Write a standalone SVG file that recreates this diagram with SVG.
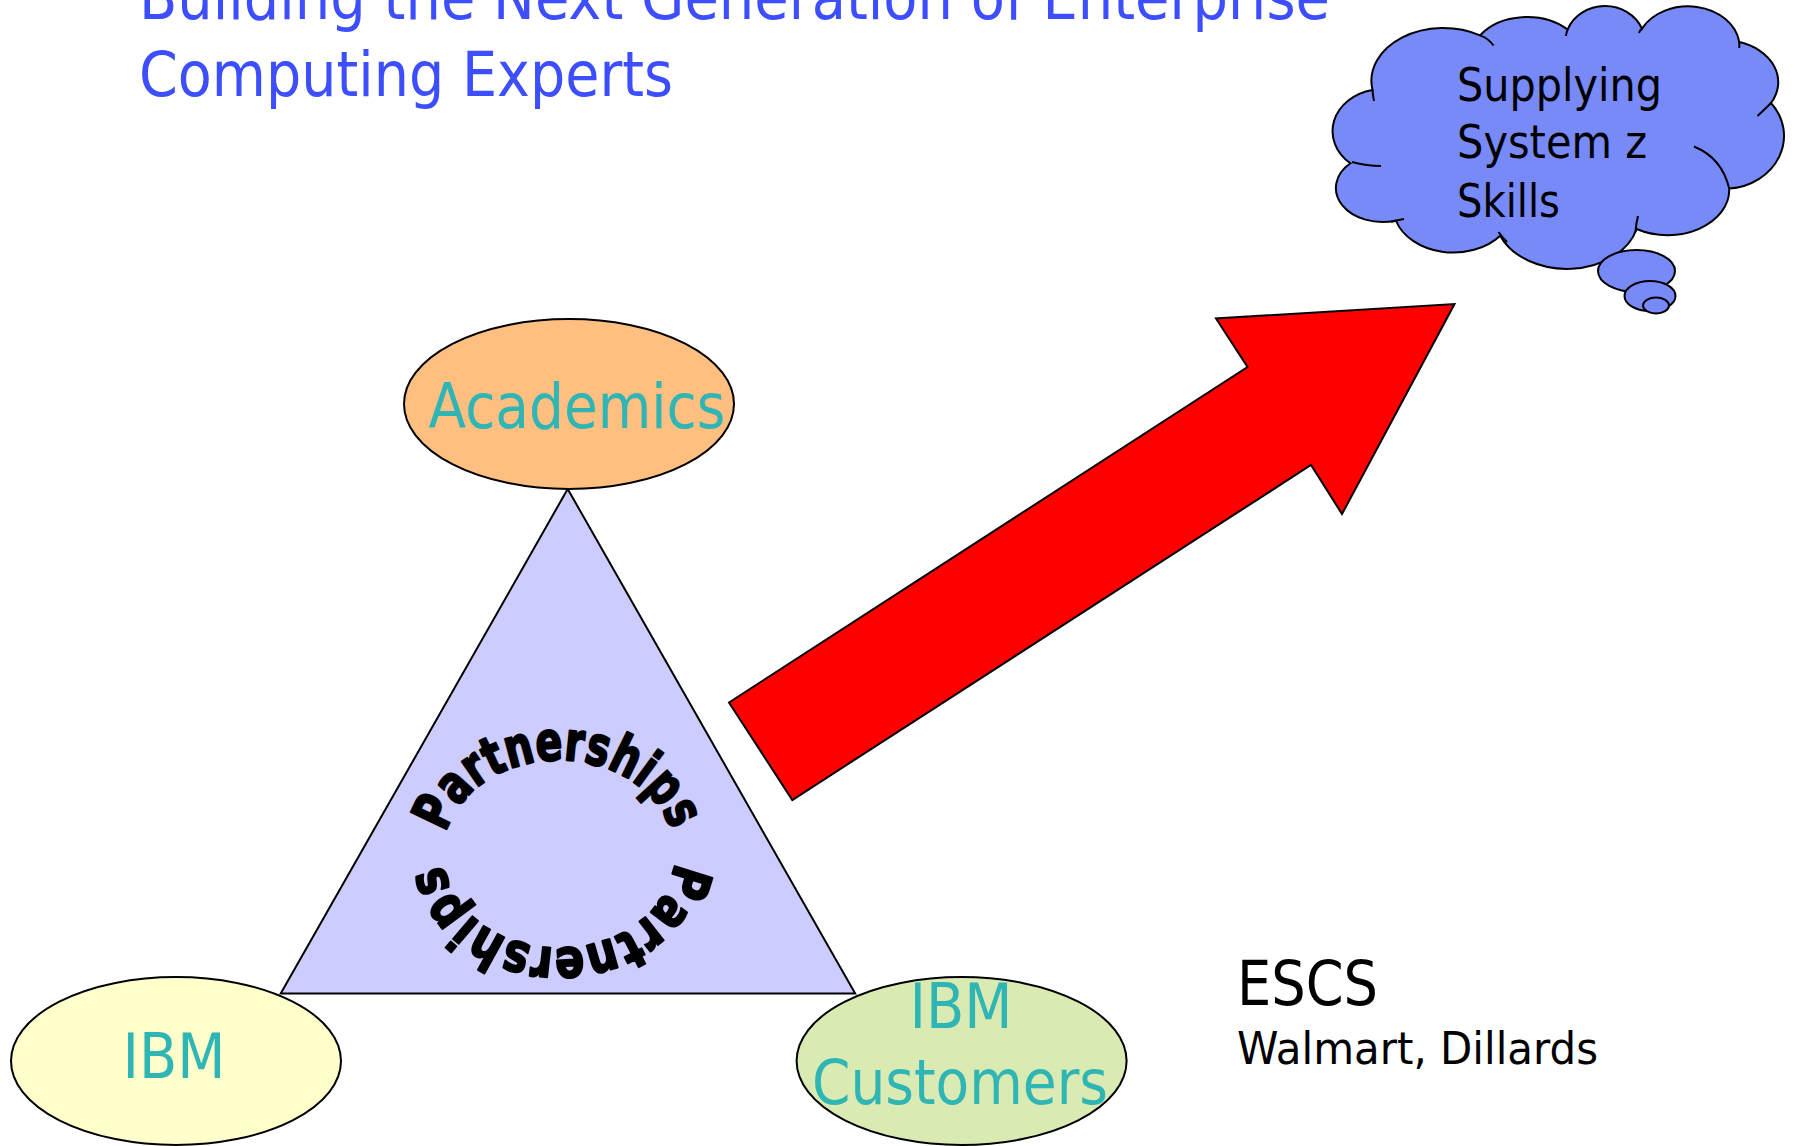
<svg xmlns="http://www.w3.org/2000/svg" width="1795" height="1146" viewBox="0 0 1795 1146">
<style>
.title{font-family:"DejaVu Sans","Liberation Sans",sans-serif;font-size:62px;fill:#3D4EFF}
.teal{font-family:"DejaVu Sans","Liberation Sans",sans-serif;font-size:62px;fill:#30B5B5}
.blk{font-family:"DejaVu Sans","Liberation Sans",sans-serif;fill:#000}
.shape{stroke:#000;stroke-width:2}
.ring{font-family:"DejaVu Sans","Liberation Sans",sans-serif;font-weight:bold;font-size:54px;fill:#000;stroke:#000;stroke-width:2.2;stroke-linejoin:round}
.inner{fill:none;stroke:#000;stroke-width:2}
</style>
<defs>
<path id="ringTop" d="M445.9 833 A116 94 0 0 1 674.9 852"/>
<path id="ringBot" d="M674.6 862 A116 94 0 1 1 443.4 845.8"/>
</defs>
<rect width="1795" height="1146" fill="#fff"/>
<g id="title">
<text class="title" x="139" y="19" textLength="1191" lengthAdjust="spacingAndGlyphs">Building the Next Generation of Enterprise</text>
<text class="title" x="139" y="96" textLength="534" lengthAdjust="spacingAndGlyphs">Computing Experts</text>
</g>
<g id="cloud">
<path class="shape" fill="#7889F8" d="M1372.5 90 A71.9 52.8 0 0 1 1480 35.4 A56.8 41.7 0 0 1 1567.6 29.5 A40 36.3 0 0 1 1642 28.6 A51.7 41 0 0 1 1739.3 42.1 A54 41.7 0 0 1 1771 103 A60 52.9 0 0 1 1729.2 188.6 A61.6 45.2 0 0 1 1636.6 229 A71.9 52.9 0 0 1 1500.2 235.7 A60 45 0 0 1 1395.9 220.5 A46.4 34 0 0 1 1350.4 163.3 A50 42 0 0 1 1372.5 90 Z"/>
<path class="inner" d="M1372.5 90 Q1373 96 1374 101 M1480 35.4 Q1488 38 1493.5 45.5 M1567.6 29.5 Q1566.5 32 1566 36 M1642 28.6 Q1640 30 1639 33 M1739.3 42.1 L1739.3 48 M1771 103 Q1765 109 1757.5 116 M1694 146.5 Q1722 158 1729.2 188.6 M1638 216 Q1636 224 1635.5 232 M1498.5 232 Q1503 238 1507 242 M1391 222 Q1398 220 1404 219 M1352 162 Q1367 166 1381 166"/>
<ellipse class="shape" fill="#7889F8" cx="1636.5" cy="271" rx="38.5" ry="21"/>
<ellipse class="shape" fill="#7889F8" cx="1650" cy="296" rx="25.5" ry="15"/>
<ellipse class="shape" fill="#7889F8" cx="1656" cy="305.5" rx="13" ry="8"/>
<text class="blk" font-size="46" x="1457" y="101" textLength="205" lengthAdjust="spacingAndGlyphs">Supplying</text>
<text class="blk" font-size="46" x="1457" y="158" textLength="190" lengthAdjust="spacingAndGlyphs">System z</text>
<text class="blk" font-size="46" x="1457" y="217" textLength="103" lengthAdjust="spacingAndGlyphs">Skills</text>
</g>
<g id="partnerships">
<polygon class="shape" fill="#CCCCFF" points="567.7,489 280.7,993.5 855.2,993.5"/>
<text class="ring"><textPath href="#ringTop" textLength="285" lengthAdjust="spacingAndGlyphs">Partnerships</textPath></text>
<text class="ring"><textPath href="#ringBot" textLength="312" lengthAdjust="spacingAndGlyphs">Partnerships</textPath></text>
</g>
<g id="academics">
<ellipse class="shape" fill="#FFBF80" cx="569" cy="404" rx="165" ry="85"/>
<text class="teal" x="577" y="428" text-anchor="middle" textLength="297" lengthAdjust="spacingAndGlyphs">Academics</text>
</g>
<g id="ibm">
<ellipse class="shape" fill="#FFFFCC" cx="176" cy="1061" rx="165" ry="84"/>
<text class="teal" x="174" y="1078" text-anchor="middle" textLength="103" lengthAdjust="spacingAndGlyphs">IBM</text>
</g>
<g id="customers">
<ellipse class="shape" fill="#D9EAB3" cx="961.6" cy="1061" rx="165" ry="84"/>
<text class="teal" x="961" y="1028" text-anchor="middle" textLength="103" lengthAdjust="spacingAndGlyphs">IBM</text>
<text class="teal" x="960" y="1104" text-anchor="middle" textLength="296" lengthAdjust="spacingAndGlyphs">Customers</text>
</g>
<g id="escs">
<text class="blk" font-size="62" x="1237" y="1005" textLength="141" lengthAdjust="spacingAndGlyphs">ESCS</text>
<text class="blk" font-size="44" x="1237" y="1064" textLength="361" lengthAdjust="spacingAndGlyphs">Walmart, Dillards</text>
</g>
<g id="connectors">
<polygon class="shape" fill="#FF0000" points="729,702.5 1247.5,367 1216,318.5 1454.5,304 1342,514 1311,465 792.3,800"/>
</g>
</svg>
